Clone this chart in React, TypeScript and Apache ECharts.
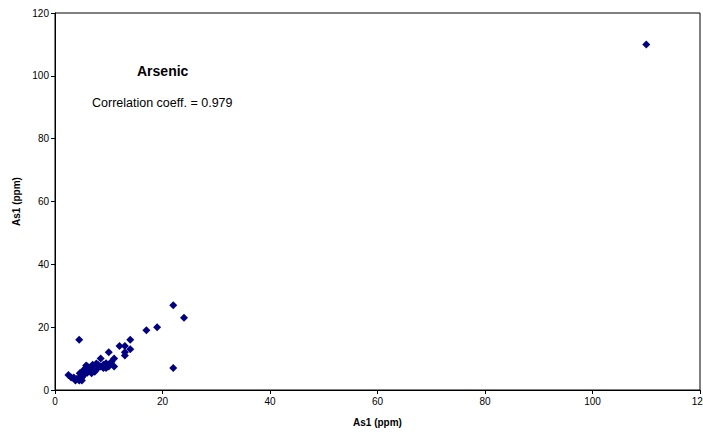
import React, { useEffect, useRef } from "react";
import * as echarts from "echarts";

const xTicks = [0, 20, 40, 60, 80, 100, 120];
const yTicks = [0, 20, 40, 60, 80, 100, 120];

const asX = [
  3, 3.5, 3.8, 4.5, 4.8, 5, 5.2, 5.5, 5.5, 6, 6, 6.5, 6.5, 7, 7, 7.5, 7.5, 8, 8, 8.5,
  9, 9, 9.5, 10, 10, 11, 10, 8.5, 11, 12, 13, 14, 14, 13, 13, 17, 19, 22, 24, 22,
  4.5, 110, 4, 5, 6, 7, 5.8, 6.2, 9.5, 10.5, 2.5, 4.3, 4.6, 5.3, 5.9, 6.8, 7.4, 7.7,
];
const asY = [
  4, 4, 3, 3, 3.5, 4, 4.5, 5, 6, 5.5, 6.5, 6, 7, 6, 7, 6.5, 7.5, 7, 8, 7.5,
  8, 7, 8.5, 7.5, 8, 7.5, 12, 10, 10, 14, 14, 16, 13, 12, 11, 19, 20, 27, 23, 7,
  16, 110, 3.5, 3, 7.5, 8, 7.8, 7.2, 7, 9, 4.8, 3.7, 5.3, 6.4, 5.8, 5.3, 5.8, 8.4,
];

const points = asX.map((x, i) => [x, asY[i]]);

export default function App() {
  const ref = useRef<HTMLDivElement>(null);
  useEffect(() => {
    if (!ref.current) return;
    const chart = echarts.init(ref.current, null, { renderer: "svg" });
    const font = "Liberation Sans, Arial, sans-serif";
    chart.setOption({
      animation: false,
      backgroundColor: "#fff",
      grid: {
        left: 55,
        top: 13,
        right: 3,
        bottom: 45,
        containLabel: false,
        outerBoundsMode: "none",
        show: true,
        borderColor: "#000",
        borderWidth: 1,
      },
      xAxis: {
        type: "value",
        min: xTicks[0],
        max: xTicks[xTicks.length - 1],
        interval: 20,
        name: "As1 (ppm)",
        nameLocation: "middle",
        nameGap: 27,
        nameTextStyle: { fontFamily: font, fontSize: 10, fontWeight: "bold", color: "#000" },
        axisLine: { show: true, lineStyle: { color: "#000", width: 1 } },
        axisTick: { show: true, length: 4, inside: false, lineStyle: { color: "#000" } },
        axisLabel: { fontFamily: font, fontSize: 10, color: "#000", margin: 6 },
        splitLine: { show: false },
      },
      yAxis: {
        type: "value",
        min: yTicks[0],
        max: yTicks[yTicks.length - 1],
        interval: 20,
        name: "As1 (ppm)",
        nameLocation: "middle",
        nameGap: 32,
        nameRotate: 90,
        nameTextStyle: { fontFamily: font, fontSize: 10, fontWeight: "bold", color: "#000" },
        axisLine: { show: true, lineStyle: { color: "#000", width: 1 } },
        axisTick: { show: true, length: 4, inside: false, lineStyle: { color: "#000" } },
        axisLabel: { fontFamily: font, fontSize: 10, color: "#000", margin: 6 },
        splitLine: { show: false },
      },
      graphic: [
        {
          type: "text",
          left: 137,
          top: 64,
          style: {
            text: "Arsenic",
            fontFamily: font,
            fontSize: 14,
            fontWeight: "bold",
            fill: "#000",
          },
        },
        {
          type: "text",
          left: 92,
          top: 96,
          style: {
            text: "Correlation coeff. = 0.979",
            fontFamily: font,
            fontSize: 12.5,
            fill: "#000",
          },
        },
      ],
      series: [
        {
          type: "scatter",
          data: points,
          symbol: "diamond",
          symbolSize: 8,
          itemStyle: { color: "#000080", opacity: 1 },
        },
      ],
    });
    return () => chart.dispose();
  }, []);
  return <div ref={ref} style={{ width: 703, height: 435, position: "absolute", left: 0, top: 0 }} />;
}
